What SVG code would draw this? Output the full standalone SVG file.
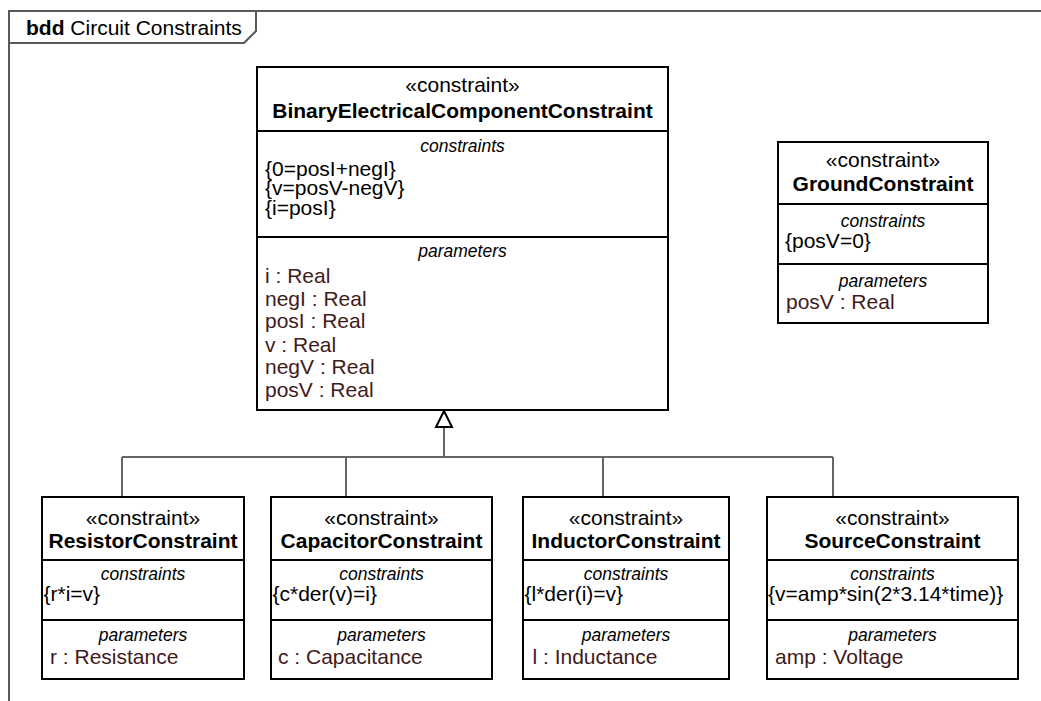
<svg xmlns="http://www.w3.org/2000/svg" width="1041" height="701" viewBox="0 0 1041 701">
<style>
text{font-family:"Liberation Sans",Arial,sans-serif;fill:#000}
.st{font-size:21px;text-anchor:middle}
.nm{font-size:21px;font-weight:bold;text-anchor:middle}
.cp{font-size:17.5px;font-style:italic;text-anchor:middle}
.tx{font-size:21px}
.pm{font-size:21px;fill:#3f1a1a}
.box{fill:#fff;stroke:#000;stroke-width:2}
.div{stroke:#000;stroke-width:2}
.frame{fill:none;stroke:#595959;stroke-width:2}
.conn{fill:none;stroke:#666;stroke-width:2}
</style>
<rect width="1041" height="701" fill="#fff"/>
<g id="frame">
<path class="frame" d="M1041 11 H9 V701"/>
<path class="frame" d="M9 43 H244 L256 31 V11"/>
<text x="26" y="35" style="font-size:21px"><tspan font-weight="bold">bdd</tspan> Circuit Constraints</text>
</g>
<g id="connectors">
<path class="conn" d="M444 427 V457 M122 457 H833 M122 457 V497 M346 457 V497 M603 457 V497 M833 457 V497"/>
<path d="M444 411 L452 427 H436 Z" fill="#fff" stroke="#000" stroke-width="2"/>
</g>
<g id="BinaryElectricalComponentConstraint">
<rect class="box" x="257" y="67" width="411" height="343"/>
<path class="div" d="M257 131 H668 M257 237 H668"/>
<text class="st" x="462.5" y="92">«constraint»</text>
<text class="nm" x="462.5" y="118">BinaryElectricalComponentConstraint</text>
<text class="cp" x="462.5" y="152">constraints</text>
<text class="tx" x="265" y="175.5">{0=posI+negI}</text>
<text class="tx" x="265" y="195">{v=posV-negV}</text>
<text class="tx" x="265" y="214.5">{i=posI}</text>
<text class="cp" x="462.5" y="257">parameters</text>
<text class="pm" x="265" y="282.5">i : Real</text>
<text class="pm" x="265" y="305.5">negI : Real</text>
<text class="pm" x="265" y="328">posI : Real</text>
<text class="pm" x="265" y="351.5">v : Real</text>
<text class="pm" x="265" y="374">negV : Real</text>
<text class="pm" x="265" y="396.5">posV : Real</text>
</g>
<g id="GroundConstraint">
<rect class="box" x="778" y="142" width="210" height="181"/>
<path class="div" d="M778 204 H988 M778 264 H988"/>
<text class="st" x="883" y="166.5">«constraint»</text>
<text class="nm" x="883" y="191">GroundConstraint</text>
<text class="cp" x="883" y="227">constraints</text>
<text class="tx" x="785" y="248">{posV=0}</text>
<text class="cp" x="883" y="287">parameters</text>
<text class="pm" x="786" y="309">posV : Real</text>
</g>
<g id="ResistorConstraint">
<rect class="box" x="42" y="497" width="202" height="182"/>
<path class="div" d="M42 560 H244 M42 620 H244"/>
<text class="st" x="143" y="524.5">«constraint»</text>
<text class="nm" x="143" y="547.5">ResistorConstraint</text>
<text class="cp" x="143" y="580">constraints</text>
<text class="tx" x="43.5" y="601">{r*i=v}</text>
<text class="cp" x="143" y="640.5">parameters</text>
<text class="pm" x="50" y="664">r : Resistance</text>
</g>
<g id="CapacitorConstraint">
<rect class="box" x="271" y="497" width="221" height="182"/>
<path class="div" d="M271 560 H492 M271 620 H492"/>
<text class="st" x="381.5" y="524.5">«constraint»</text>
<text class="nm" x="381.5" y="547.5">CapacitorConstraint</text>
<text class="cp" x="381.5" y="580">constraints</text>
<text class="tx" x="272.5" y="601">{c*der(v)=i}</text>
<text class="cp" x="381.5" y="640.5">parameters</text>
<text class="pm" x="278" y="664">c : Capacitance</text>
</g>
<g id="InductorConstraint">
<rect class="box" x="523" y="497" width="206" height="182"/>
<path class="div" d="M523 560 H729 M523 620 H729"/>
<text class="st" x="626" y="524.5">«constraint»</text>
<text class="nm" x="626" y="547.5">InductorConstraint</text>
<text class="cp" x="626" y="580">constraints</text>
<text class="tx" x="524.5" y="601">{l*der(i)=v}</text>
<text class="cp" x="626" y="640.5">parameters</text>
<text class="pm" x="532.5" y="664">l : Inductance</text>
</g>
<g id="SourceConstraint">
<rect class="box" x="767" y="497" width="251" height="182"/>
<path class="div" d="M767 560 H1018 M767 620 H1018"/>
<text class="st" x="892.5" y="524.5">«constraint»</text>
<text class="nm" x="892.5" y="547.5">SourceConstraint</text>
<text class="cp" x="892.5" y="580">constraints</text>
<text class="tx" x="768" y="601">{v=amp*sin(2*3.14*time)}</text>
<text class="cp" x="892.5" y="640.5">parameters</text>
<text class="pm" x="775" y="664">amp : Voltage</text>
</g>
</svg>
